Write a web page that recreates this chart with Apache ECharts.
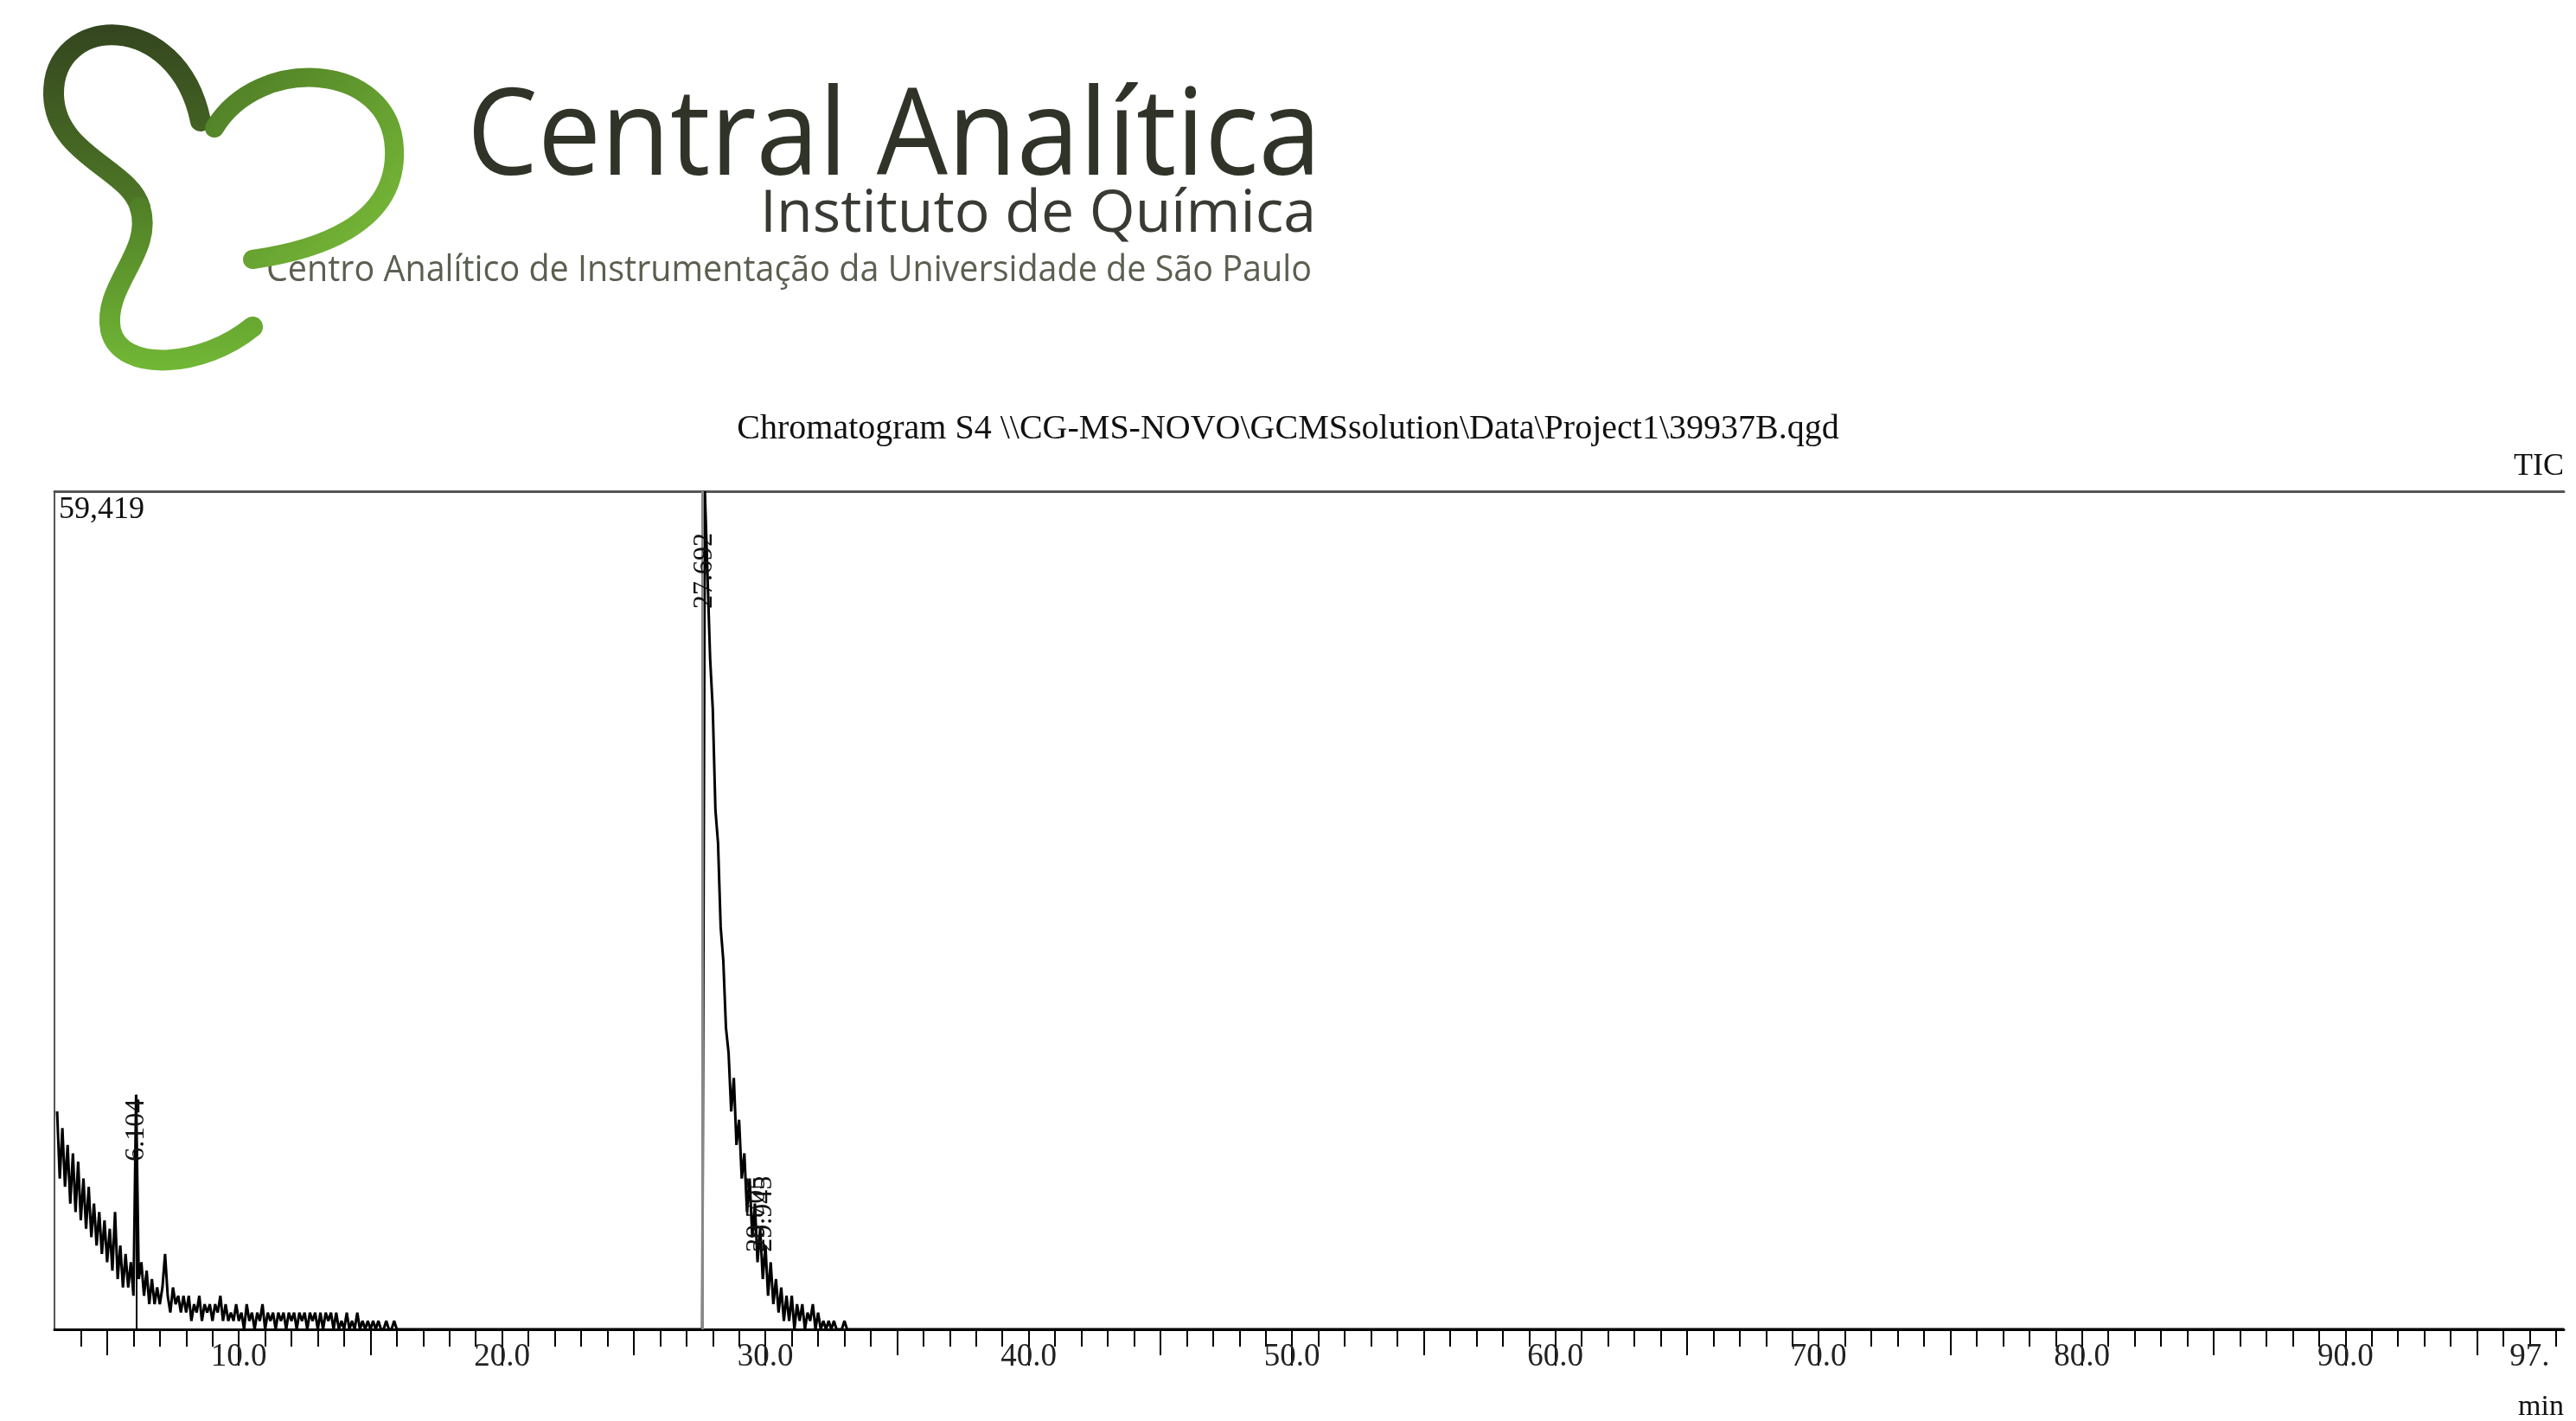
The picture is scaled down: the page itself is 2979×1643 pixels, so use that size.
<!DOCTYPE html>
<html><head><meta charset="utf-8">
<script src="https://cdn.jsdelivr.net/npm/echarts@6/dist/echarts.min.js"></script>
<style>html,body{margin:0;padding:0;background:#fff}#c{width:2979px;height:1643px}</style>
</head><body><div id="c"></div>
<script>
// Sampling: segment start time (min), step 0.1 min
const earlyStart = 3.1;
const earlyIntensity = [ // % of 59,419, from 3.1 to 16.0 min
 26,18,24,17,22,15,21,14,20,
 13,18,12,17,11,15,10,14,9,13,
 8,12,7,14,6,10,5,9,5,8,
 4,28,6,8,4,7,3,6,3,5,
 3,5,9,4,2,5,3,4,2,4,
 2,4,1,3,2,4,1,3,2,3,
 1,3,2,4,1,3,1,2,1,3,
 1,2,0,3,1,2,0,2,1,3,
 0,2,1,2,0,2,1,2,0,2,
 1,2,0,2,1,2,0,2,1,2,
 0,2,0,2,1,2,0,2,0,1,
 0,2,0,1,0,2,0,1,0,1,
 0,1,0,1,0,0,1,0,0,1,
 0];
const peakStart = 27.5;
const peakIntensity = [ // 27.5 to 33.3 min
 0,0,100,90,80,74,62,58,48,44,36,33,26,30,22,25,18,21,14,18,11,15,8,12,6,10,
 4,8,3,6,2,5,1,4,1,4,0,3,1,3,0,2,1,3,0,2,0,1,0,1,0,1,0,0,0,1,0,0,0];
const peakLabels = [
 {t:6.104, text:'6.104', lo:20, hi:27.5, line:28},
 {t:27.692, text:'27.692', lo:86, hi:95, line:null},
 {t:29.70, text:'29.705', lo:10, hi:17.5, line:null},
 {t:29.95, text:'29.945', lo:10, hi:17.5, line:null}
];
const xLabels = [10,20,30,40,50,60,70,80,90,97];
const fiveTicks = [5,15,25,35,45,55,65,75,85,95];
const oneTicks = [];
for (let v = 4; v <= 98; v++) if (v % 5 !== 0) oneTicks.push(v);
const maxIntensityText = '59,419';

const data = [];
earlyIntensity.forEach((v,i)=>data.push([+(earlyStart+0.1*i).toFixed(2), v]));
data.push([16.2,0]);
peakIntensity.forEach((v,i)=>data.push([+(peakStart+0.1*i).toFixed(2), v]));
data.push([98.3,0]);

const serif = '"Liberation Serif","DejaVu Serif",serif';
const mk = [];
peakLabels.forEach(p=>{
  if (p.line!==null) mk.push([{coord:[p.t,0],lineStyle:{color:'#000',width:2,type:'solid'},label:{show:false}},{coord:[p.t,p.line]}]);
  mk.push([{coord:[p.t,p.lo],lineStyle:{color:'rgba(0,0,0,0)',width:1},label:{show:true,position:'middle',formatter:p.text,color:'#111',fontFamily:serif,fontSize:32,distance:-16}},{coord:[p.t,p.hi]}]);
});

// logo strokes
const logoPaths = {
  lobeTop:'M232,140 C205,10 60,15 62,110 C64,180 150,195 162,240',
  lobeBottom:'M162,240 C178,292 118,330 128,382 C140,432 235,425 292,378',
  lobeRight:'M248,148 C300,62 452,72 456,172 C460,262 362,290 292,300'
};
Object.keys(logoPaths).forEach(k=>echarts.graphic.registerShape(k, echarts.graphic.extendPath(logoPaths[k], {})));

const xCommon = {type:'value',min:3,max:98.3,gridIndex:0,splitLine:{show:false}};
const chart = echarts.init(document.getElementById('c'));
chart.setOption({
  animation:false,
  backgroundColor:'#fff',
  grid:{left:63,right:14,top:568,bottom:106},
  xAxis:[
    Object.assign({},xCommon,{position:'bottom',axisLine:{lineStyle:{color:'#000',width:3}},
      axisTick:{customValues:xLabels.slice(0,9),length:42,inside:false,lineStyle:{color:'#000',width:2}},
      axisLabel:{customValues:xLabels,formatter:v=>v===97?'97.':v.toFixed(1),color:'#222',fontFamily:serif,fontSize:37,margin:14}}),
    Object.assign({},xCommon,{position:'bottom',axisLine:{show:false},
      axisTick:{customValues:fiveTicks,length:30,lineStyle:{color:'#000',width:2}},axisLabel:{show:false}}),
    Object.assign({},xCommon,{position:'bottom',axisLine:{show:false},
      axisTick:{customValues:oneTicks,length:20,lineStyle:{color:'#000',width:2}},axisLabel:{show:false}}),
    Object.assign({},xCommon,{position:'top',axisLine:{lineStyle:{color:'#555',width:3}},axisTick:{show:false},axisLabel:{show:false}})
  ],
  yAxis:{type:'value',min:0,max:100,axisLine:{show:true,lineStyle:{color:'#555',width:2}},axisTick:{show:false},axisLabel:{show:false},splitLine:{show:false}},
  series:[{type:'line',data:data,showSymbol:false,lineStyle:{color:'#000',width:3},
    markLine:{symbol:'none',silent:true,animation:false,
      data:[{xAxis:27.6,lineStyle:{color:'#888',width:3,type:'solid'},label:{show:false}}].concat(mk)}}],
  graphic:[
    {type:'text',left:'center',top:476,style:{text:'Chromatogram S4 \\\\CG-MS-NOVO\\GCMSsolution\\Data\\Project1\\39937B.qgd',font:'40px '+serif,fill:'#111'}},
    {type:'text',right:14,top:522,style:{text:'TIC',font:'36px '+serif,fill:'#111'}},
    {type:'text',left:68,top:572,style:{text:maxIntensityText,font:'36px '+serif,fill:'#111'}},
    {type:'text',right:14,top:1610,style:{text:'min',font:'34px '+serif,fill:'#111'}},
    {type:'text',left:540,top:92,scaleX:0.93,style:{text:'Central Analítica',font:'140px "Open Sans"',fill:'#2f3328'}},
    {type:'text',right:1457,top:215,style:{text:'Instituto de Química',font:'68px "Open Sans"',fill:'#383a34'}},
    {type:'text',left:308,top:292,scaleX:0.94,style:{text:'Centro Analítico de Instrumentação da Universidade de São Paulo',font:'42px "Open Sans"',fill:'#5a5f50'}},
    {type:'lobeTop',style:{fill:null,lineWidth:24,lineCap:'round',stroke:new echarts.graphic.LinearGradient(0,0,0,1,[{offset:0,color:'#34451f'},{offset:1,color:'#4f7a26'}])}},
    {type:'lobeBottom',style:{fill:null,lineWidth:24,lineCap:'round',stroke:new echarts.graphic.LinearGradient(0,0,0,1,[{offset:0,color:'#4f7e26'},{offset:1,color:'#72b836'}])}},
    {type:'lobeRight',style:{fill:null,lineWidth:22,lineCap:'round',stroke:new echarts.graphic.LinearGradient(0,0,1,1,[{offset:0,color:'#4c7a25'},{offset:1,color:'#7cc03a'}])}}
  ]
});
</script></body></html>
